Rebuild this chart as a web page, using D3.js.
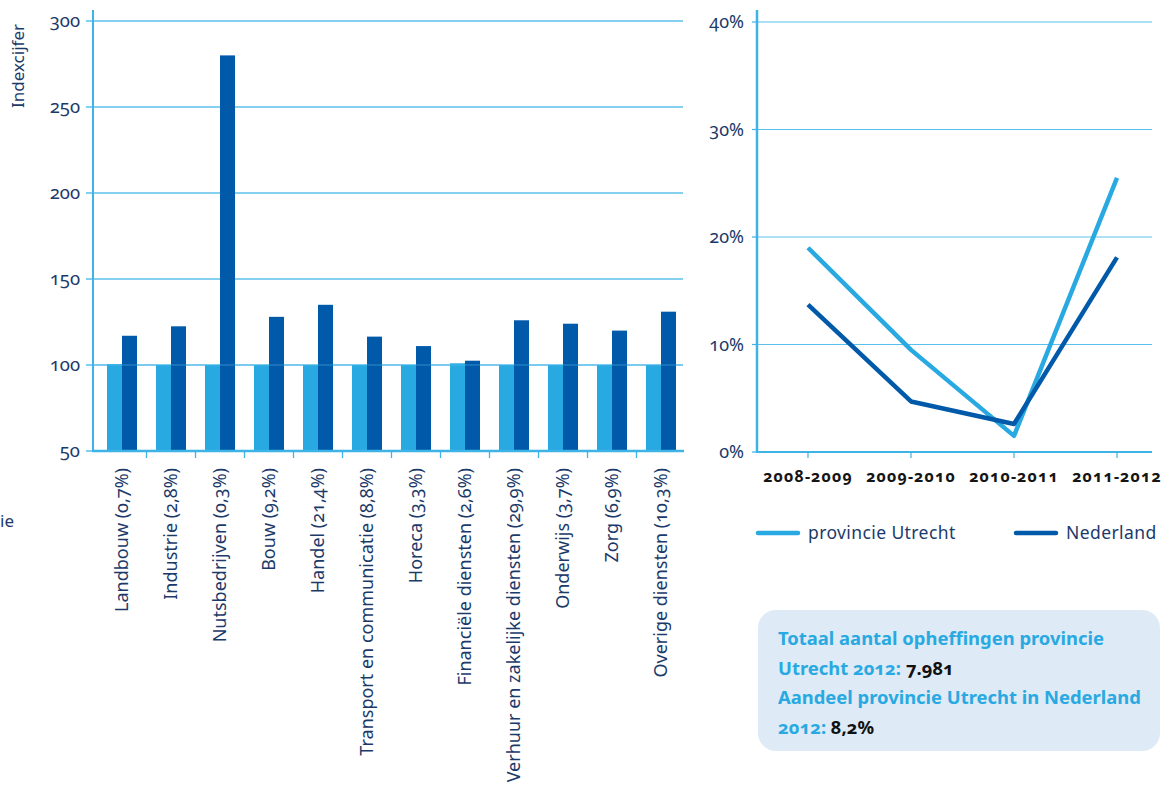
<!DOCTYPE html>
<html>
<head>
<meta charset="utf-8">
<script src="https://cdn.jsdelivr.net/npm/d3@7/dist/d3.min.js"></script>
<style>
  body { margin: 0; background: #fff; }
  svg { display: block; font-family: "Noto Sans", "Open Sans", sans-serif; }
  .num { font-variant-numeric: oldstyle-nums; }
</style>
</head>
<body>
<script>
// Left chart: index per sector (share in parentheses)
const sectors = [
  "Landbouw (0,7%)", "Industrie (2,8%)", "Nutsbedrijven (0,3%)", "Bouw (9,2%)",
  "Handel (21,4%)", "Transport en communicatie (8,8%)", "Horeca (3,3%)",
  "Financiële diensten (2,6%)", "Verhuur en zakelijke diensten (29,9%)",
  "Onderwijs (3,7%)", "Zorg (6,9%)", "Overige diensten (10,3%)"
];
const baseIndex = [100.5, 100, 100, 100, 100, 100, 100, 101, 100, 100, 100, 100];
const sectorIndex = [117, 122.5, 280, 128, 135, 116.5, 111, 102.5, 126, 124, 120, 131];
const indexTicks = [50, 100, 150, 200, 250, 300];

// Right chart: growth of opheffingen
const periods = ["2008-2009", "2009-2010", "2010-2011", "2011-2012"];
const utrecht = [19.0, 9.5, 1.5, 25.5];
const nederland = [13.7, 4.7, 2.6, 18.1];
const pctTicks = [0, 10, 20, 30, 40];

const light = "#29a9e1";
const dark = "#005aa9";
const axisCol = "#3db3e6";
const gridCol = "#5cc0ec";
const navy = "#1b3a6a";

const width = 1175;
const height = 787;

const svg = d3.select("body").append("svg")
  .attr("width", width)
  .attr("height", height);

svg.append("rect").attr("width", width).attr("height", height).attr("fill", "#fff");

// ---------- left bar chart ----------
const y = d3.scaleLinear().domain([50, 300]).range([451, 21]);
const x0 = d3.scaleBand().domain(sectors).range([97.5, 685.5]);
const x1 = d3.scaleBand().domain(["base", "sector"]).range([9.5, 39.5]);

const left = svg.append("g");

// gridlines
left.selectAll("line.grid")
  .data(indexTicks.slice(1))
  .enter().append("line")
  .attr("x1", 93).attr("x2", 683)
  .attr("y1", d => y(d)).attr("y2", d => y(d))
  .attr("stroke", gridCol).attr("stroke-width", 1.3);

// bars
const groups = left.selectAll("g.sector")
  .data(sectors)
  .enter().append("g")
  .attr("transform", d => `translate(${x0(d)},0)`);

groups.append("rect")
  .attr("x", x1("base"))
  .attr("width", x1.bandwidth())
  .attr("y", (d, i) => y(baseIndex[i]))
  .attr("height", (d, i) => y(50) - y(baseIndex[i]))
  .attr("fill", light);

groups.append("rect")
  .attr("x", x1("sector"))
  .attr("width", x1.bandwidth())
  .attr("y", (d, i) => y(sectorIndex[i]))
  .attr("height", (d, i) => y(50) - y(sectorIndex[i]))
  .attr("fill", dark);

// faint 100 line over bars
left.append("line")
  .attr("x1", 93).attr("x2", 683)
  .attr("y1", y(100)).attr("y2", y(100))
  .attr("stroke", gridCol).attr("stroke-width", 1).attr("opacity", 0.5);

// axes
left.append("line")
  .attr("x1", 93).attr("x2", 93).attr("y1", 10).attr("y2", 452)
  .attr("stroke", axisCol).attr("stroke-width", 2);
left.append("line")
  .attr("x1", 92).attr("x2", 684).attr("y1", 451).attr("y2", 451)
  .attr("stroke", axisCol).attr("stroke-width", 2.5);

// y tick marks and labels
left.selectAll("line.ytick")
  .data(indexTicks)
  .enter().append("line")
  .attr("x1", 86).attr("x2", 93)
  .attr("y1", d => y(d)).attr("y2", d => y(d))
  .attr("stroke", axisCol).attr("stroke-width", 1.3);

left.selectAll("text.ylab")
  .data(indexTicks)
  .enter().append("text")
  .attr("class", "num")
  .attr("x", 80).attr("y", d => y(d) + 6)
  .attr("text-anchor", "end")
  .attr("font-size", 18.5)
  .attr("fill", navy)
  .text(d => d);

// category ticks between bands
left.selectAll("line.xtick")
  .data(sectors.slice(1))
  .enter().append("line")
  .attr("x1", d => x0(d)).attr("x2", d => x0(d))
  .attr("y1", 451).attr("y2", 458)
  .attr("stroke", axisCol).attr("stroke-width", 1.3);

// category labels
left.selectAll("text.cat")
  .data(sectors)
  .enter().append("text")
  .attr("class", "num")
  .attr("transform", d => `translate(${x0(d) + x0.bandwidth() / 2 + 6},468) rotate(-90)`)
  .attr("text-anchor", "end")
  .attr("font-size", 18)
  .attr("fill", navy)
  .text(d => d);

// y title
left.append("text")
  .attr("transform", "translate(24,66) rotate(-90)")
  .attr("text-anchor", "middle")
  .attr("font-size", 17)
  .attr("fill", navy)
  .text("Indexcijfer");

// fragment at page edge
left.append("text")
  .attr("x", 0).attr("y", 527)
  .attr("font-size", 17)
  .attr("fill", navy)
  .text("ie");

// ---------- right line chart ----------
const yr = d3.scaleLinear().domain([0, 40]).range([452, 22]);
const xr = d3.scalePoint().domain(periods).range([808, 1117]);

const right = svg.append("g");

right.selectAll("line.grid")
  .data(pctTicks.slice(1))
  .enter().append("line")
  .attr("x1", 757).attr("x2", 1152)
  .attr("y1", d => yr(d)).attr("y2", d => yr(d))
  .attr("stroke", gridCol).attr("stroke-width", 1.2);

right.append("line")
  .attr("x1", 757).attr("x2", 757).attr("y1", 10).attr("y2", 453)
  .attr("stroke", axisCol).attr("stroke-width", 2.5);
right.append("line")
  .attr("x1", 756).attr("x2", 1152).attr("y1", 452).attr("y2", 452)
  .attr("stroke", axisCol).attr("stroke-width", 2);

right.selectAll("line.xtick")
  .data(periods)
  .enter().append("line")
  .attr("x1", d => xr(d)).attr("x2", d => xr(d))
  .attr("y1", 452).attr("y2", 458)
  .attr("stroke", axisCol).attr("stroke-width", 1.2);

right.selectAll("line.ytick")
  .data(pctTicks)
  .enter().append("line")
  .attr("x1", 752).attr("x2", 757)
  .attr("y1", d => yr(d)).attr("y2", d => yr(d))
  .attr("stroke", axisCol).attr("stroke-width", 1.2);

right.selectAll("text.ylab")
  .data(pctTicks)
  .enter().append("text")
  .attr("class", "num")
  .attr("x", 744).attr("y", d => yr(d) + 6)
  .attr("text-anchor", "end")
  .attr("font-size", 18)
  .attr("fill", navy)
  .text(d => d + "%");

right.selectAll("text.xlab")
  .data(periods)
  .enter().append("text")
  .attr("class", "num")
  .attr("x", d => xr(d)).attr("y", 482)
  .attr("text-anchor", "middle")
  .attr("font-size", 16)
  .attr("font-weight", "bold")
  .attr("letter-spacing", 1.1)
  .attr("fill", "#151515")
  .text(d => d);

const line = d3.line()
  .x((d, i) => xr(periods[i]))
  .y(d => yr(d));

right.append("path")
  .attr("d", line(utrecht))
  .attr("fill", "none")
  .attr("stroke", light)
  .attr("stroke-width", 4.5)
  .attr("stroke-linejoin", "round");

right.append("path")
  .attr("d", line(nederland))
  .attr("fill", "none")
  .attr("stroke", dark)
  .attr("stroke-width", 4.5)
  .attr("stroke-linejoin", "round");

// legend
const legend = [
  { name: "provincie Utrecht", color: light, x: 758 },
  { name: "Nederland", color: dark, x: 1016 }
];
const lg = right.selectAll("g.legend")
  .data(legend)
  .enter().append("g")
  .attr("transform", d => `translate(${d.x},533)`);
lg.append("line")
  .attr("x1", 0).attr("x2", 40)
  .attr("stroke", d => d.color)
  .attr("stroke-width", 4.5)
  .attr("stroke-linecap", "round");
lg.append("text")
  .attr("x", 50).attr("y", 6)
  .attr("font-size", 17.5)
  .attr("fill", navy)
  .attr("letter-spacing", 0.4)
  .text(d => d.name);

// info box
const box = svg.append("g");
box.append("rect")
  .attr("x", 758).attr("y", 610)
  .attr("width", 402).attr("height", 141)
  .attr("rx", 18)
  .attr("fill", "#deeaf6");

const boxLines = [
  [["Totaal aantal opheffingen provincie", light]],
  [["Utrecht 2012: ", light], ["7.981", "#111"]],
  [["Aandeel provincie Utrecht in Nederland", light]],
  [["2012: ", light], ["8,2%", "#111"]]
];
const bt = box.selectAll("text")
  .data(boxLines)
  .enter().append("text")
  .attr("class", "num")
  .attr("x", 778)
  .attr("y", (d, i) => 645 + i * 29.5)
  .attr("font-size", 18.4)
  .attr("font-weight", "bold");
bt.selectAll("tspan")
  .data(d => d)
  .enter().append("tspan")
  .attr("fill", d => d[1])
  .text(d => d[0]);
</script>
</body>
</html>
